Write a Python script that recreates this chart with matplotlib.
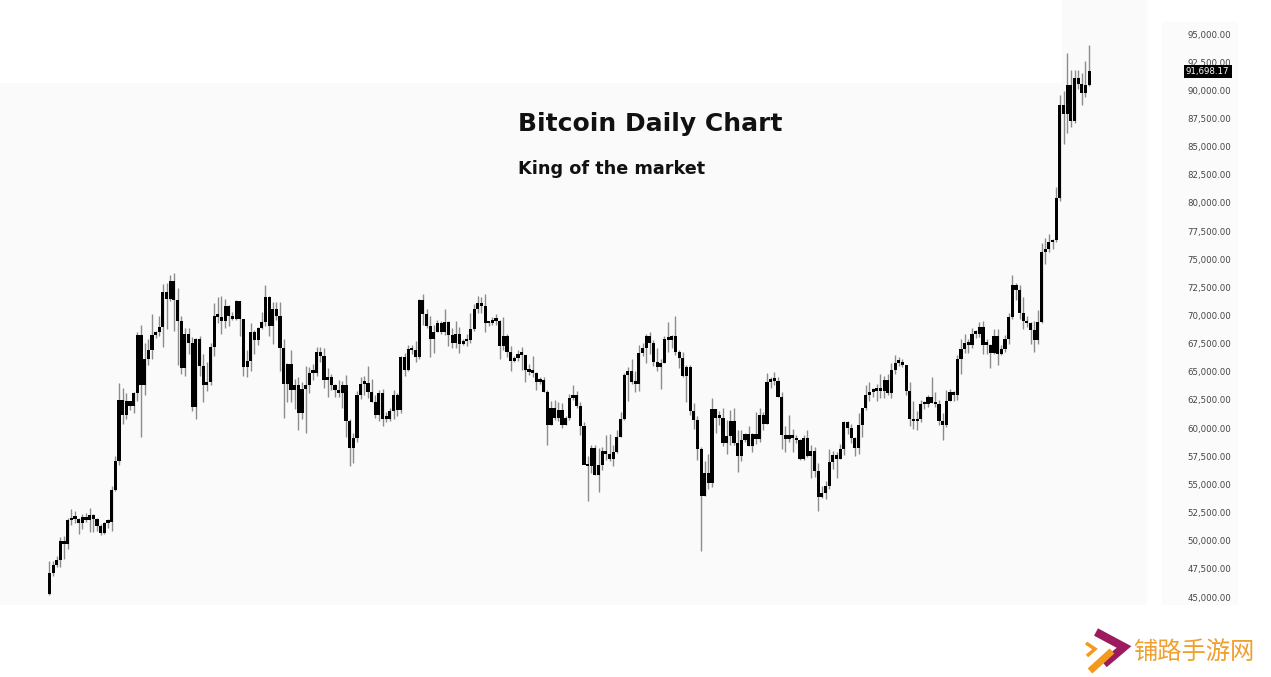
import numpy as np
import matplotlib
matplotlib.use('Agg')
import matplotlib.pyplot as plt
from matplotlib.patches import Rectangle
from matplotlib.lines import Line2D
from matplotlib.ticker import FuncFormatter

# daily BTC candles, 9 Feb 2024 .. 19 Nov 2024, in thousands of USD
opens = [45.3, 47.1, 47.8, 48.3, 50.0, 49.7, 51.8, 52.0, 51.9, 51.6, 52.1, 51.8, 52.3, 51.9, 51.3, 50.7, 51.6, 51.7, 54.5, 57.1, 62.5,
         61.2, 62.4, 62.0, 63.1, 68.3, 63.8, 66.1, 66.9, 68.3, 68.5, 69.0, 72.1, 71.5, 73.1, 71.4, 69.5, 65.3, 68.4, 67.6, 61.9, 67.9, 65.5, 63.8, 64.1, 67.2, 70.0, 69.9, 69.5, 70.8, 70.0, 69.7,
         71.3, 69.7, 65.4, 66.0, 68.5, 67.8, 68.9, 69.4, 71.6, 69.1, 70.6, 70.0, 67.1, 63.9, 65.7, 63.4, 63.8, 61.3, 63.5, 63.8, 64.9, 64.9, 66.8, 66.4, 64.3, 64.5, 63.8, 63.4, 63.1, 63.8,
         60.6, 58.2, 59.1, 62.9, 63.9, 64.0, 63.2, 62.3, 61.2, 63.1, 60.8, 60.8, 61.5, 62.9, 61.6, 66.3, 65.2, 67.0, 66.9, 66.3, 71.4, 70.1, 69.1, 67.9, 68.5, 69.3, 68.5, 69.4, 68.3, 67.6, 68.4,
         67.5, 67.7, 67.8, 68.8, 70.6, 71.1, 70.8, 69.3, 69.3, 69.6, 69.5, 67.3, 68.2, 66.8, 66.0, 66.2, 66.6, 66.5, 65.2, 65.0, 64.9, 64.1, 64.3, 63.2, 60.3, 61.8, 60.9, 61.6, 60.3, 60.9,
         62.7, 62.9, 62.0, 60.2, 56.7, 56.6, 58.2, 55.8, 56.7, 58.0, 57.7, 57.3, 57.9, 59.2, 60.8, 64.7, 65.1, 64.1, 63.9, 66.7, 67.1, 68.2, 67.6, 65.9, 65.4, 65.8, 67.9, 67.8, 68.2, 66.8, 66.2,
         64.6, 65.4, 61.5, 60.7, 58.1, 54.0, 56.0, 55.1, 61.7, 60.9, 60.9, 58.7, 59.3, 60.6, 58.7, 57.5, 58.9, 59.5, 58.4, 59.5, 59.0, 61.2, 60.4, 64.1, 64.2, 64.2, 62.8, 59.4, 59.0, 59.4, 59.1,
         58.9, 57.3, 59.1, 57.5, 58.0, 56.2, 53.9, 54.2, 54.9, 57.0, 57.6, 57.3, 58.1, 60.5, 60.0, 59.1, 58.2, 60.3, 61.8, 62.9, 63.2, 63.3, 63.6, 63.3, 64.3, 63.1, 65.2, 65.8, 65.9, 65.6,
         63.3, 60.8, 60.6, 60.8, 62.1, 62.1, 62.8, 62.2, 62.1, 60.6, 60.3, 62.4, 63.2, 62.9, 66.1, 67.0, 67.6, 67.4, 68.4, 68.4, 69.0, 67.4, 67.4, 66.7, 68.2, 66.6, 67.0, 67.9, 69.9, 72.7, 72.3,
         70.2, 69.5, 69.3, 68.7, 67.8, 69.4, 75.6, 75.9, 76.5, 76.7, 80.4, 88.7, 87.9, 90.5, 87.3, 91.1, 90.6, 89.8, 90.5]
highs = [48.2, 48.2, 48.6, 50.3, 50.4, 52.0, 52.8, 52.6, 52.0, 52.4, 52.5, 52.9, 52.4, 52.0, 51.5, 51.7, 51.9, 54.9, 57.5, 64.0, 63.6,
         63.1, 62.4, 63.2, 68.5, 69.2, 67.6, 67.9, 70.1, 68.6, 70.0, 72.8, 72.9, 73.6, 73.8, 72.4, 70.0, 68.9, 68.9, 68.1, 68.0, 68.2, 66.6, 65.9, 67.6, 71.1, 71.6, 71.7, 71.5, 70.9, 70.3, 71.4,
         71.3, 69.7, 66.9, 69.3, 68.7, 69.0, 70.3, 72.7, 71.7, 71.2, 71.2, 71.2, 67.9, 65.8, 66.9, 64.4, 64.5, 64.1, 65.5, 65.4, 65.7, 67.2, 67.2, 67.1, 65.3, 64.8, 63.9, 64.3, 64.2, 64.7,
         60.8, 59.6, 63.3, 64.5, 64.6, 65.5, 64.4, 62.9, 63.4, 63.5, 61.4, 61.8, 63.4, 63.1, 66.4, 66.7, 67.4, 67.4, 67.7, 71.5, 71.9, 70.6, 70.0, 69.2, 69.6, 69.5, 70.6, 69.5, 68.9, 69.5, 69.0,
         67.9, 68.4, 70.2, 71.0, 71.7, 71.6, 71.9, 69.5, 69.9, 70.1, 69.6, 69.9, 68.4, 67.3, 66.4, 66.9, 67.2, 66.5, 65.7, 66.4, 65.0, 64.5, 64.5, 63.4, 62.4, 62.5, 62.3, 62.2, 61.1, 63.0,
         63.8, 63.3, 62.3, 60.5, 57.5, 58.5, 58.5, 58.2, 58.3, 59.4, 59.5, 58.5, 59.8, 61.4, 64.9, 65.4, 66.1, 65.1, 67.4, 67.6, 68.4, 68.5, 67.8, 67.1, 66.1, 68.2, 69.4, 68.3, 70.0, 66.9, 66.8,
         65.6, 65.6, 62.2, 61.1, 58.3, 57.1, 57.7, 62.7, 61.7, 61.5, 61.8, 60.7, 61.6, 61.8, 59.8, 59.8, 59.6, 60.2, 59.6, 61.4, 61.8, 61.4, 64.9, 64.5, 65.0, 64.5, 63.2, 60.2, 61.2, 59.9, 59.4,
         59.0, 59.4, 59.8, 58.5, 58.3, 56.9, 54.9, 55.3, 58.1, 58.0, 57.9, 58.6, 60.6, 60.6, 60.4, 59.2, 61.3, 61.8, 63.8, 64.1, 63.6, 63.9, 64.8, 64.6, 64.8, 65.8, 66.5, 66.3, 66.1, 65.6,
         64.1, 62.4, 61.5, 62.5, 62.4, 62.9, 64.5, 63.2, 62.5, 61.3, 63.4, 63.5, 63.3, 66.5, 67.9, 68.4, 67.9, 68.9, 68.7, 69.4, 69.5, 67.9, 67.5, 68.8, 68.8, 67.4, 68.3, 70.2, 73.6, 72.9, 72.7,
         71.6, 70.0, 69.4, 69.5, 70.5, 76.4, 76.9, 77.2, 76.8, 81.4, 89.6, 89.9, 93.3, 91.8, 91.8, 91.8, 91.5, 92.6, 94.0]
lows = [45.2, 46.9, 47.7, 47.7, 48.4, 49.3, 51.4, 51.6, 50.6, 51.0, 51.7, 50.8, 50.8, 50.9, 50.5, 50.6, 51.1, 50.9, 54.4, 56.7, 60.4,
        60.8, 61.6, 61.3, 62.4, 59.2, 62.9, 65.6, 66.1, 68.0, 68.2, 67.2, 68.8, 71.3, 68.6, 65.6, 64.8, 64.6, 66.6, 61.5, 60.8, 64.6, 62.3, 63.3, 63.8, 66.4, 69.3, 68.4, 68.9, 69.1, 69.6, 69.6,
        68.2, 64.6, 64.5, 65.1, 66.6, 67.4, 68.8, 69.1, 68.2, 67.5, 69.6, 65.1, 60.9, 62.3, 62.3, 61.7, 59.8, 60.8, 59.6, 63.1, 64.3, 64.6, 65.9, 63.6, 62.8, 63.4, 62.8, 62.8, 61.8, 59.2,
        56.6, 56.9, 58.8, 62.6, 62.9, 62.7, 62.3, 60.9, 60.6, 60.2, 60.5, 60.6, 60.8, 61.1, 61.3, 64.6, 65.1, 66.6, 65.9, 66.1, 69.2, 68.9, 66.3, 66.7, 68.5, 68.4, 68.3, 67.3, 67.1, 67.1, 66.7,
        67.4, 67.3, 67.6, 68.6, 70.2, 70.2, 68.5, 69.1, 69.2, 69.2, 66.1, 66.9, 66.3, 65.1, 65.9, 66.0, 65.2, 64.1, 64.7, 64.5, 63.4, 63.9, 63.2, 58.5, 60.3, 60.7, 60.6, 60.0, 60.3, 60.7,
        62.5, 61.8, 59.4, 56.8, 53.5, 56.0, 55.8, 54.3, 56.3, 57.2, 57.1, 56.6, 57.8, 59.2, 60.7, 62.4, 63.9, 63.2, 63.3, 66.4, 65.8, 66.6, 65.5, 65.1, 63.5, 65.8, 66.8, 67.1, 66.5, 65.3, 64.5,
        62.3, 61.2, 59.9, 57.2, 49.1, 54.0, 54.6, 54.8, 59.6, 60.3, 58.4, 57.7, 58.5, 58.5, 56.1, 57.1, 58.8, 58.4, 57.9, 58.6, 58.8, 59.8, 60.4, 63.6, 63.8, 62.8, 58.1, 57.9, 58.8, 57.9, 58.7,
        57.2, 57.2, 57.4, 55.6, 55.7, 52.6, 53.8, 53.7, 54.6, 56.4, 55.6, 57.3, 57.6, 59.5, 58.7, 57.5, 57.7, 59.2, 61.6, 62.4, 62.8, 62.4, 62.7, 62.7, 62.9, 62.7, 64.8, 65.5, 65.4, 62.9,
        60.2, 59.9, 59.8, 60.5, 61.7, 61.9, 62.2, 61.9, 60.3, 58.9, 60.1, 62.4, 62.4, 62.5, 64.8, 66.7, 66.7, 67.1, 68.0, 68.1, 66.6, 66.6, 65.3, 66.6, 65.6, 66.5, 66.8, 67.5, 69.7, 71.4, 69.7,
        68.8, 69.0, 67.5, 66.8, 67.5, 69.3, 74.6, 75.6, 75.9, 76.5, 80.2, 85.2, 86.2, 86.7, 87.1, 90.1, 88.7, 89.4, 90.4]
closes = [47.1, 47.8, 48.3, 50.0, 49.7, 51.8, 52.0, 51.9, 51.6, 52.1, 51.8, 52.3, 51.9, 51.3, 50.7, 51.6, 51.7, 54.5, 57.1, 62.5, 61.2,
          62.4, 62.0, 63.1, 68.3, 63.8, 66.1, 66.9, 68.3, 68.5, 69.0, 72.1, 71.5, 73.1, 71.4, 69.5, 65.3, 68.4, 67.6, 61.9, 67.9, 65.5, 63.8, 64.1, 67.2, 70.0, 69.9, 69.5, 70.8, 70.0, 69.7, 71.3,
          69.7, 65.4, 66.0, 68.5, 67.8, 68.9, 69.4, 71.6, 69.1, 70.6, 70.0, 67.1, 63.9, 65.7, 63.4, 63.8, 61.3, 63.5, 63.8, 64.9, 64.9, 66.8, 66.4, 64.3, 64.5, 63.8, 63.4, 63.1, 63.8, 60.6,
          58.2, 59.1, 62.9, 63.9, 64.0, 63.2, 62.3, 61.2, 63.1, 60.8, 60.8, 61.5, 62.9, 61.6, 66.3, 65.2, 67.0, 66.9, 66.3, 71.4, 70.1, 69.1, 67.9, 68.5, 69.3, 68.5, 69.4, 68.3, 67.6, 68.4, 67.5,
          67.7, 67.8, 68.8, 70.6, 71.1, 70.8, 69.3, 69.3, 69.6, 69.5, 67.3, 68.2, 66.8, 66.0, 66.2, 66.6, 66.5, 65.2, 65.0, 64.9, 64.1, 64.3, 63.2, 60.3, 61.8, 60.9, 61.6, 60.3, 60.9, 62.7,
          62.9, 62.0, 60.2, 56.7, 56.6, 58.2, 55.8, 56.7, 58.0, 57.7, 57.3, 57.9, 59.2, 60.8, 64.7, 65.1, 64.1, 63.9, 66.7, 67.1, 68.2, 67.6, 65.9, 65.4, 65.8, 67.9, 67.8, 68.2, 66.8, 66.2, 64.6,
          65.4, 61.5, 60.7, 58.1, 54.0, 56.0, 55.1, 61.7, 60.9, 60.9, 58.7, 59.3, 60.6, 58.7, 57.5, 58.9, 59.5, 58.4, 59.5, 59.0, 61.2, 60.4, 64.1, 64.2, 64.2, 62.8, 59.4, 59.0, 59.4, 59.1, 58.9,
          57.3, 59.1, 57.5, 58.0, 56.2, 53.9, 54.2, 54.9, 57.0, 57.6, 57.3, 58.1, 60.5, 60.0, 59.1, 58.2, 60.3, 61.8, 62.9, 63.2, 63.3, 63.6, 63.3, 64.3, 63.1, 65.2, 65.8, 65.9, 65.6, 63.3,
          60.8, 60.6, 60.8, 62.1, 62.1, 62.8, 62.2, 62.1, 60.6, 60.3, 62.4, 63.2, 62.9, 66.1, 67.0, 67.6, 67.4, 68.4, 68.4, 69.0, 67.4, 67.4, 66.7, 68.2, 66.6, 67.0, 67.9, 69.9, 72.7, 72.3, 70.2,
          69.5, 69.3, 68.7, 67.8, 69.4, 75.6, 75.9, 76.5, 76.7, 80.4, 88.7, 87.9, 90.5, 87.3, 91.1, 90.6, 89.8, 90.5, 91.698]

yticks = np.arange(45000, 95001, 2500)
last_price = 91698.17

W, H = 1271, 677
fig = plt.figure(figsize=(W / 100, H / 100), dpi=100)
fig.patch.set_facecolor('white')

# faint grey panels behind the chart (screenshot look)
def px_rect(x0, y0, x1, y1, color):
    fig.patches.append(Rectangle((x0 / W, 1 - y1 / H), (x1 - x0) / W, (y1 - y0) / H,
                                 transform=fig.transFigure, facecolor=color, edgecolor='none', zorder=-10))

px_rect(0, 83, 1147, 605, '#fafafa')
px_rect(1062, 0, 1147, 83, '#fafafa')
px_rect(1162, 22, 1238, 605, '#fbfbfb')

ax = fig.add_axes([0, 1 - 605 / H, 1147 / W, 605 / H])
ax.set_facecolor('none')

o = np.array(opens) * 1000
h = np.array(highs) * 1000
l = np.array(lows) * 1000
c = np.array(closes) * 1000
x = np.arange(len(c))

ax.vlines(x, l, h, color='#8c8c8c', linewidth=1.0, zorder=2)
bottom = np.minimum(o, c)
height = np.maximum(np.abs(c - o), 250)
ax.bar(x, height, bottom=bottom, width=0.86, color='black', linewidth=0, zorder=3)

ax.set_xlim(-13.5, len(c) - 1 + 15.8)
ax.set_ylim(44290, 98020)
ax.set_yticks(yticks)
ax.yaxis.set_major_formatter(FuncFormatter(lambda v, p: f'{v:,.2f}'))
ax.yaxis.tick_right()
ax.tick_params(axis='y', length=0, pad=29, labelsize=6.2, labelcolor='#444444')
ax.set_xticks([])
for s in ax.spines.values():
    s.set_visible(False)

ax.text(1186 / 1147, last_price, f'{last_price:,.2f}', transform=ax.get_yaxis_transform(),
        ha='left', va='center', fontsize=6.2, color='white', zorder=5,
        bbox=dict(boxstyle='square,pad=0.25', facecolor='black', edgecolor='none'))

fig.text(650 / W, 1 - 124 / H, 'Bitcoin Daily Chart', ha='center', va='center',
         fontsize=18, fontweight='bold', color='#111111')
fig.text(518 / W, 1 - 169 / H, 'King of the market', ha='left', va='center',
         fontsize=12.7, fontweight='bold', color='#111111')

# watermark logo + text
def px_line(xs, ys, color, lw):
    fig.lines.append(Line2D([v / W for v in xs], [1 - v / H for v in ys], transform=fig.transFigure,
                            color=color, linewidth=lw, solid_capstyle='butt', solid_joinstyle='miter'))

px_line([1096, 1124, 1104], [632, 647, 664], '#9b1b5e', 6)
px_line([1086, 1095, 1087], [643, 649, 656], '#f39a1e', 2.5)
px_line([1090, 1112], [671, 651], '#f39a1e', 5)
fig.text(1133 / W, 1 - 652 / H, '铺路手游网', ha='left', va='center', fontsize=17.5,
         color='#f0a030', family=['Noto Sans CJK SC', 'DejaVu Sans'])

fig.savefig('out.png', dpi=100, facecolor='white')
